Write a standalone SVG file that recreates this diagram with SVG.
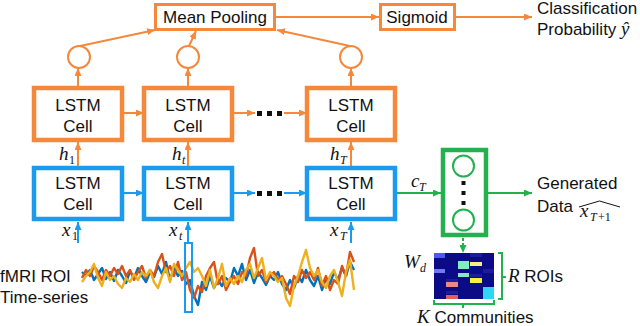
<svg xmlns="http://www.w3.org/2000/svg" width="640" height="326" viewBox="0 0 640 326">
<defs>
<style>
.ob{fill:#fff;stroke:#F5883A;stroke-width:4.5}
.bb{fill:#fff;stroke:#1A9BEF;stroke-width:4.5}
.ol{stroke:#F5883A;stroke-width:2;fill:none}
.bl{stroke:#1A9BEF;stroke-width:2;fill:none}
.gl{stroke:#22B14C;stroke-width:2;fill:none}
.t{font-family:"Liberation Sans",Arial,sans-serif;font-size:17px;fill:#111}
.tc{font-family:"Liberation Sans",Arial,sans-serif;font-size:17px;fill:#111;text-anchor:middle}
.m{font-family:"Liberation Serif","Times New Roman",serif;font-style:italic;font-size:19px;fill:#111}
.s{font-family:"Liberation Serif","Times New Roman",serif;font-size:12px;fill:#111}
.si{font-family:"Liberation Serif","Times New Roman",serif;font-style:italic;font-size:12px;fill:#111}
.ts{fill:none;stroke-width:2.4;stroke-linejoin:round}
</style>
<marker id="ao" markerWidth="8" markerHeight="7" refX="8" refY="3.5" orient="auto" markerUnits="userSpaceOnUse"><path d="M0,0 L8,3.5 L0,7 z" fill="#F5883A"/></marker>
<marker id="ab" markerWidth="8" markerHeight="7" refX="8" refY="3.5" orient="auto" markerUnits="userSpaceOnUse"><path d="M0,0 L8,3.5 L0,7 z" fill="#1A9BEF"/></marker>
<marker id="ag" markerWidth="8" markerHeight="7" refX="8" refY="3.5" orient="auto" markerUnits="userSpaceOnUse"><path d="M0,0 L8,3.5 L0,7 z" fill="#22B14C"/></marker>
</defs>
<rect width="640" height="326" fill="#fff"/>

<g id="connectors">
<line class="ol" x1="276" y1="17" x2="379" y2="17" marker-end="url(#ao)"/>
<line class="ol" x1="456" y1="17" x2="532" y2="17" marker-end="url(#ao)"/>
<line class="ol" x1="80" y1="46" x2="155" y2="30" marker-end="url(#ao)"/>
<line class="ol" x1="189" y1="46" x2="196" y2="31" marker-end="url(#ao)"/>
<line class="ol" x1="350" y1="46" x2="277" y2="30" marker-end="url(#ao)"/>
<line class="ol" x1="78" y1="86" x2="78" y2="68" marker-end="url(#ao)"/>
<line class="ol" x1="188" y1="86" x2="188" y2="68" marker-end="url(#ao)"/>
<line class="ol" x1="351" y1="86" x2="351" y2="68" marker-end="url(#ao)"/>
<line class="ol" x1="124" y1="113" x2="144" y2="113" marker-end="url(#ao)"/>
<line class="ol" x1="234" y1="113" x2="255" y2="113" marker-end="url(#ao)"/>
<line class="ol" x1="284" y1="113" x2="307" y2="113" marker-end="url(#ao)"/>
<line class="ol" x1="78" y1="166" x2="78" y2="142" marker-end="url(#ao)"/>
<line class="ol" x1="188" y1="166" x2="188" y2="142" marker-end="url(#ao)"/>
<line class="ol" x1="351" y1="166" x2="351" y2="142" marker-end="url(#ao)"/>
<line class="bl" x1="124" y1="193" x2="144" y2="193" marker-end="url(#ab)"/>
<line class="bl" x1="234" y1="193" x2="255" y2="193" marker-end="url(#ab)"/>
<line class="bl" x1="284" y1="193" x2="307" y2="193" marker-end="url(#ab)"/>
<line class="bl" x1="78" y1="243" x2="78" y2="222" marker-end="url(#ab)"/>
<line class="bl" x1="188" y1="243" x2="188" y2="222" marker-end="url(#ab)"/>
<line class="bl" x1="351" y1="243" x2="351" y2="222" marker-end="url(#ab)"/>
<line class="gl" x1="397" y1="193" x2="441" y2="193" marker-end="url(#ag)"/>
<line class="gl" x1="488" y1="193" x2="532" y2="193" marker-end="url(#ag)"/>
<line class="gl" x1="463" y1="238" x2="463" y2="253" stroke-dasharray="3,2" marker-end="url(#ag)"/>
<path class="gl" stroke-width="1.5" d="M498,253 L502,253 L502,299 L498,299 M502,277 L506,277"/>
<path class="gl" stroke-width="1.5" d="M434,300 L434,304 L494,304 L494,300 M463,304 L463,308"/>
</g>

<g id="mean-pooling">
<rect x="155.5" y="4.5" width="119" height="25" fill="#fff" stroke="#F5883A" stroke-width="3"/>
<text class="tc" x="215" y="23">Mean Pooling</text>
</g>
<g id="sigmoid">
<rect x="380.5" y="4.5" width="74" height="25" fill="#fff" stroke="#F5883A" stroke-width="3"/>
<text class="tc" x="417" y="23">Sigmoid</text>
</g>
<g id="output-label">
<text class="t" x="537" y="14">Classification</text>
<text class="t" x="537" y="35">Probability <tspan font-family="Liberation Serif,serif" font-style="italic" font-size="19">ŷ</tspan></text>
</g>

<g id="pool-circles" fill="#fff" stroke="#F5883A" stroke-width="2">
<circle cx="79" cy="57" r="11"/>
<circle cx="188" cy="57" r="11"/>
<circle cx="351" cy="57" r="11"/>
</g>

<g id="lstm-top-1"><rect class="ob" x="34" y="88" width="88" height="52"/><text class="tc" x="78" y="111">LSTM</text><text class="tc" x="78" y="132">Cell</text></g>
<g id="lstm-top-t"><rect class="ob" x="144" y="88" width="88" height="52"/><text class="tc" x="188" y="111">LSTM</text><text class="tc" x="188" y="132">Cell</text></g>
<g id="lstm-top-T"><rect class="ob" x="307" y="88" width="88" height="52"/><text class="tc" x="351" y="111">LSTM</text><text class="tc" x="351" y="132">Cell</text></g>
<g id="dots-top" fill="#111"><rect x="257" y="111" width="5" height="5"/><rect x="267" y="111" width="5" height="5"/><rect x="277" y="111" width="5" height="5"/></g>

<g id="lstm-bot-1"><rect class="bb" x="34" y="168" width="88" height="51"/><text class="tc" x="78" y="189">LSTM</text><text class="tc" x="78" y="210">Cell</text></g>
<g id="lstm-bot-t"><rect class="bb" x="144" y="168" width="88" height="51"/><text class="tc" x="188" y="189">LSTM</text><text class="tc" x="188" y="210">Cell</text></g>
<g id="lstm-bot-T"><rect class="bb" x="307" y="168" width="88" height="51"/><text class="tc" x="351" y="189">LSTM</text><text class="tc" x="351" y="210">Cell</text></g>
<g id="dots-bot" fill="#111"><rect x="257" y="191" width="5" height="5"/><rect x="267" y="191" width="5" height="5"/><rect x="277" y="191" width="5" height="5"/></g>

<g id="labels-h">
<text class="m" x="59" y="160">h</text><text class="s" x="69" y="164">1</text>
<text class="m" x="172" y="160">h</text><text class="si" x="182" y="164">t</text>
<text class="m" x="330" y="160">h</text><text class="si" x="340" y="164">T</text>
</g>
<g id="labels-x">
<text class="m" x="62" y="236">x</text><text class="s" x="72" y="240">1</text>
<text class="m" x="169" y="236">x</text><text class="si" x="179" y="240">t</text>
<text class="m" x="330" y="236">x</text><text class="si" x="340" y="240">T</text>
<text class="m" x="411" y="187">c</text><text class="si" x="419" y="191">T</text>
</g>

<g id="decoder">
<rect x="443" y="150" width="43" height="85" fill="#fff" stroke="#22B14C" stroke-width="4.5"/>
<circle cx="463.5" cy="166" r="10.5" fill="#fff" stroke="#22B14C" stroke-width="2"/>
<circle cx="463.5" cy="220" r="10.5" fill="#fff" stroke="#22B14C" stroke-width="2"/>
<g fill="#111"><rect x="461.5" y="181" width="4" height="4"/><rect x="461.5" y="191" width="4" height="4"/><rect x="461.5" y="201" width="4" height="4"/></g>
</g>

<g id="generated-label">
<text class="t" x="537" y="189">Generated</text>
<text class="t" x="537" y="212">Data</text>
<text class="m" x="580" y="217">x</text><text class="si" x="590" y="221">T</text><text class="s" x="598" y="221">+1</text>
<path d="M579,207 L599.5,201 L620,207" fill="none" stroke="#111" stroke-width="1"/>
</g>

<g id="wd-matrix">
<text class="m" x="404" y="268" font-size="21">W</text><text class="si" x="420" y="272">d</text>
<rect x="434" y="253" width="60" height="46" fill="#0b0b86"/>
<rect x="470" y="253" width="12" height="4" fill="#1c1c9c"/>
<rect x="483" y="269" width="11" height="4" fill="#1c1c9c"/>
<rect x="446" y="279" width="12" height="3" fill="#1c1c9c"/>
<rect x="446" y="291" width="12" height="3" fill="#1c1c9c"/>
<rect x="470" y="274" width="12" height="3" fill="#1c1c9c"/>
<rect x="434" y="253" width="11" height="5" fill="#5058EE"/>
<rect x="434" y="269" width="11" height="4" fill="#7078F2"/>
<rect x="458" y="261" width="11" height="8" fill="#80ECC4"/>
<rect x="470" y="262" width="12" height="4" fill="#F3F088"/>
<rect x="458" y="273" width="11" height="4" fill="#80ECC4"/>
<rect x="470" y="278" width="12" height="5" fill="#F8F040"/>
<rect x="446" y="282" width="12" height="5" fill="#E88888"/>
<rect x="446" y="295" width="12" height="4" fill="#E06060"/>
<rect x="483" y="287" width="11" height="12" fill="#30D4F4"/>
<text class="t" x="508" y="282"><tspan font-family="Liberation Serif,serif" font-style="italic" font-size="19">R</tspan> ROIs</text>
<text class="t" x="417" y="323"><tspan font-family="Liberation Serif,serif" font-style="italic" font-size="19">K</tspan> Communities</text>
</g>

<g id="time-series">
<text class="t" x="0" y="282">fMRI ROI</text>
<text class="t" x="0" y="303">Time-series</text>
<polyline class="ts" stroke="#0072BD" points="82,272 86,276 90,270 94,280 98,274 102,268 106,279 110,272 114,281 118,270 122,276 126,283 130,271 134,278 138,268 142,276 146,282 150,272 154,277 158,266 162,274 166,262 170,280 174,268 178,276 182,271 186,284 190,280 194,296 198,305 202,282 206,290 210,276 214,288 218,280 222,286 226,278 230,282 234,268 238,276 242,264 246,280 250,270 254,283 258,272 262,278 266,285 270,276 274,280 278,272 282,284 286,290 290,280 294,288 298,276 302,282 306,270 310,280 314,286 318,276 322,290 326,278 330,284 334,272 338,280 342,268 346,276 350,262 354,270"/>
<polyline class="ts" stroke="#D95319" points="82,278 86,270 90,276 94,266 98,272 102,280 106,270 110,276 114,268 118,274 122,266 126,276 130,270 134,280 138,272 142,266 146,278 150,270 154,276 158,262 162,254 166,272 170,266 174,276 178,262 182,280 186,272 190,290 194,298 198,286 202,292 206,276 210,268 214,262 218,284 222,276 226,290 230,282 234,276 238,284 242,272 246,276 250,258 254,248 258,276 262,270 266,282 270,276 274,272 278,280 282,276 286,284 290,294 294,276 298,282 302,270 306,278 310,272 314,280 318,268 322,286 326,276 330,290 334,280 338,284 342,266 346,276 350,252 354,262"/>
<polyline class="ts" stroke="#EDB120" points="82,282 86,276 90,272 94,264 98,278 102,286 106,272 110,280 114,276 118,284 122,288 126,278 130,282 134,274 138,280 142,272 146,276 150,270 154,282 158,288 162,276 166,268 170,282 174,264 178,270 182,276 186,268 190,262 194,272 198,268 202,276 206,286 210,270 214,288 218,278 222,264 226,286 230,278 234,284 238,276 242,282 246,270 250,264 254,278 258,268 262,258 266,280 270,272 274,276 278,282 282,278 286,298 290,306 294,286 298,276 302,262 306,250 310,268 314,276 318,270 322,282 326,288 330,276 334,270 338,282 342,296 346,272 350,260 354,290"/>
<rect x="185" y="243" width="7" height="69" fill="none" stroke="#1A9BEF" stroke-width="2"/>
</g>
</svg>
